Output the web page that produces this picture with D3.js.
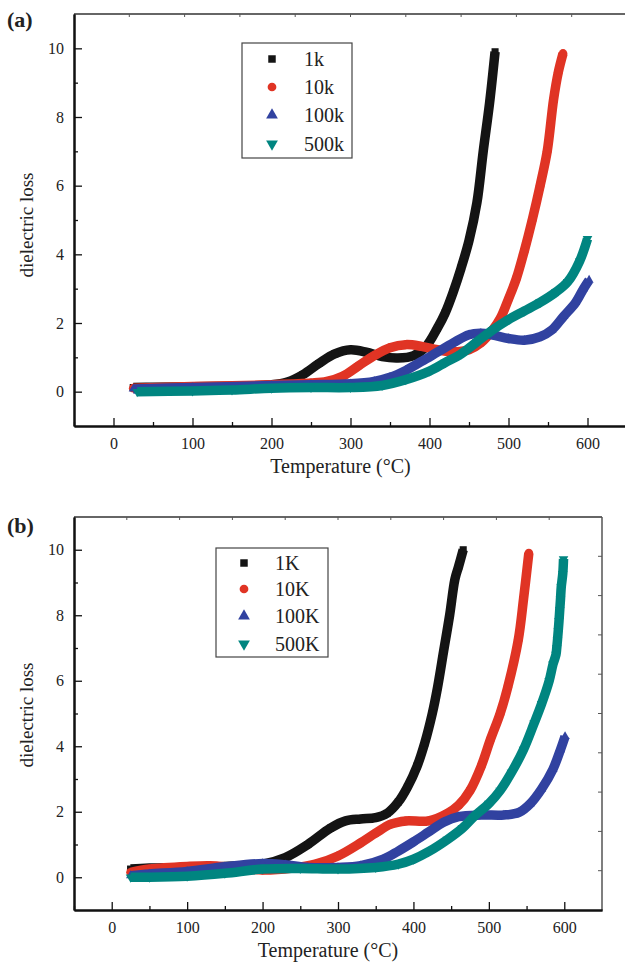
<!DOCTYPE html>
<html>
<head>
<meta charset="utf-8">
<script src="https://cdn.jsdelivr.net/npm/d3@7"></script>
<style>
  body { margin: 0; background: #fff; }
  svg text { font-family: "Liberation Serif", "Times New Roman", serif !important; fill: #222; }
</style>
</head>
<body>
<script>
// frequencies shown in each panel
var labelsA = ["1k", "10k", "100k", "500k"];
var labelsB = ["1K", "10K", "100K", "500K"];
var colors = ["#141414", "#e03424", "#3142a0", "#008580"];

// axis ticks
var xTicks = [0, 100, 200, 300, 400, 500, 600];
var yTicks = [0, 2, 4, 6, 8, 10];

// panel (a): [temperature, dielectric loss]
var a1k = [[25,0.12],[50,0.13],[100,0.14],[150,0.16],[200,0.2],[220,0.28],[240,0.5],[260,0.82],[280,1.1],[300,1.22],[320,1.15],[340,1.02],[360,0.98],[380,1.05],[395,1.3],[410,1.85],[420,2.3],[430,2.9],[440,3.6],[450,4.4],[460,5.5],[468,7.0],[476,8.4],[483,9.9]];
var a10k = [[25,0.1],[100,0.15],[150,0.17],[200,0.2],[250,0.25],[270,0.3],[290,0.45],[310,0.75],[330,1.05],[350,1.28],[370,1.37],[390,1.32],[410,1.22],[430,1.16],[450,1.22],[465,1.42],[480,1.8],[490,2.15],[500,2.7],[510,3.3],[520,4.1],[530,5.0],[540,6.0],[549,7.0],[557,8.5],[563,9.3],[569,9.85]];
var a100k = [[25,0.08],[100,0.12],[200,0.18],[250,0.2],[300,0.23],[330,0.3],[350,0.42],[370,0.62],[390,0.88],[410,1.15],[430,1.42],[450,1.66],[465,1.7],[480,1.65],[500,1.55],[520,1.5],[540,1.6],[555,1.8],[570,2.2],[585,2.6],[595,3.0],[602,3.25]];
var a500k = [[30,0.0],[100,0.02],[150,0.05],[200,0.1],[250,0.12],[300,0.12],[340,0.18],[370,0.35],[400,0.6],[420,0.85],[440,1.1],[460,1.45],[480,1.8],[500,2.1],[520,2.35],[540,2.6],[560,2.9],[575,3.2],[590,3.8],[600,4.45]];

// panel (b)
var b1k = [[25,0.25],[50,0.28],[100,0.3],[150,0.33],[200,0.4],[230,0.6],[260,1.0],[290,1.5],[310,1.72],[330,1.78],[350,1.82],[365,1.95],[380,2.3],[392,2.75],[405,3.4],[415,4.1],[425,5.0],[432,5.8],[440,6.9],[448,8.0],[455,9.1],[460,9.5],[466,10.0]];
var b10k = [[25,0.15],[50,0.25],[100,0.33],[130,0.35],[160,0.3],[200,0.22],[240,0.28],[270,0.4],[300,0.65],[330,1.05],[350,1.35],[370,1.62],[390,1.72],[420,1.72],[445,1.95],[460,2.2],[475,2.65],[490,3.4],[502,4.2],[515,5.0],[525,5.8],[539,7.25],[546,8.5],[553,9.9]];
var b100k = [[25,0.05],[50,0.1],[100,0.18],[150,0.32],[200,0.42],[230,0.38],[260,0.3],[300,0.3],[330,0.35],[360,0.55],[380,0.8],[400,1.08],[420,1.38],[440,1.68],[460,1.85],[490,1.9],[520,1.9],[540,1.98],[555,2.25],[570,2.7],[585,3.3],[595,3.9],[601,4.3]];
var b500k = [[25,0.0],[50,0.0],[100,0.03],[150,0.12],[200,0.25],[250,0.27],[300,0.25],[350,0.3],[380,0.4],[400,0.55],[420,0.78],[445,1.15],[465,1.5],[480,1.85],[500,2.25],[515,2.65],[530,3.2],[546,3.9],[560,4.7],[570,5.3],[580,6.0],[585,6.5],[589,6.8],[590,7.0],[591,7.25],[592,7.52],[593,7.83],[594,8.17],[595,8.5],[596,8.87],[598,9.27],[599,9.72]];

var width = 625, height = 967;

var svg = d3.select("body").append("svg")
  .attr("width", width)
  .attr("height", height)
  .attr("font-family", "Liberation Serif");

//big symbols for the legend, small ones sitting on the curves
var legendSym = [
  d3.symbol().type(d3.symbolSquare).size(56),
  d3.symbol().type(d3.symbolCircle).size(60),
  d3.symbol().type(d3.symbolTriangle).size(60),
  d3.symbol().type(d3.symbolTriangle).size(60)
];
var curveSym = [
  d3.symbol().type(d3.symbolSquare).size(50),
  d3.symbol().type(d3.symbolCircle).size(60),
  d3.symbol().type(d3.symbolTriangle).size(36),
  d3.symbol().type(d3.symbolTriangle).size(40)
];
var symRot = [0, 0, 0, 180];

drawPanel({
  tag: "(a)", tagY: 27,
  left: 74, right: 627, top: 14, bottom: 426,
  series: [a1k, a10k, a100k, a500k], labels: labelsA,
  legend: {x: 242, y: 43, w: 110, h: 115, mx: 272, tx: 304, rows: [59, 87, 115, 144]},
  titleY: 473, ylabelY: 225, rightTicks: false
});

drawPanel({
  tag: "(b)", tagY: 533,
  left: 74, right: 602, top: 517, bottom: 910,
  series: [b1k, b10k, b100k, b500k], labels: labelsB,
  legend: {x: 216, y: 548, w: 112, h: 109, mx: 244, tx: 275, rows: [563, 589, 616, 644]},
  titleY: 957, ylabelY: 715, rightTicks: true
});

function drawPanel(p) {
  var x = d3.scaleLinear().domain([-50, 650]).range([p.left, p.right]);
  var y = d3.scaleLinear().domain([-1, 11]).range([p.bottom, p.top]);
  var g = svg.append("g");

  // frame
  g.append("line").attr("x1", p.left).attr("x2", p.right).attr("y1", p.top).attr("y2", p.top)
    .attr("stroke", "#333").attr("stroke-width", 1.5);
  g.append("line").attr("x1", p.right).attr("x2", p.right).attr("y1", p.top).attr("y2", p.bottom)
    .attr("stroke", "#555").attr("stroke-width", 1.5);

  // top and right decoration ticks
  g.selectAll(".tt").data(d3.range(20, 650, 70)).enter().append("line")
    .attr("x1", function(d) { return x(d); }).attr("x2", function(d) { return x(d); })
    .attr("y1", p.top).attr("y2", p.top + 3)
    .attr("stroke", "#555").attr("stroke-width", 1);
  if (p.rightTicks) {
    g.selectAll(".rt").data(d3.range(0.2, 10.5, 1.2)).enter().append("line")
      .attr("x1", p.right).attr("x2", p.right - 4)
      .attr("y1", function(d) { return y(d); }).attr("y2", function(d) { return y(d); })
      .attr("stroke", "#555").attr("stroke-width", 1);
  }

  // bottom axis
  g.append("g").attr("transform", "translate(0," + p.bottom + ")")
    .call(d3.axisBottom(x).tickValues(xTicks).tickSize(-8).tickPadding(12).tickSizeOuter(0));
  g.append("g").attr("transform", "translate(0," + p.bottom + ")")
    .call(d3.axisBottom(x).tickValues(d3.range(-50, 650, 100)).tickSize(-4).tickFormat("").tickSizeOuter(0));

  // left axis
  g.append("g").attr("transform", "translate(" + p.left + ",0)")
    .call(d3.axisLeft(y).tickValues(yTicks).tickSize(-8).tickPadding(10).tickSizeOuter(0));
  g.append("g").attr("transform", "translate(" + p.left + ",0)")
    .call(d3.axisLeft(y).tickValues([1, 3, 5, 7, 9]).tickSize(-4).tickFormat("").tickSizeOuter(0));

  g.selectAll(".domain").attr("stroke", "#111").attr("stroke-width", 2);
  g.selectAll(".tick line").attr("stroke", "#111").attr("stroke-width", 1.3);
  g.selectAll(".tick text").attr("font-family", "Liberation Serif").style("font-size", "16px").attr("fill", "#222");

  // curves
  var line = d3.line()
    .x(function(d) { return x(d[0]); })
    .y(function(d) { return y(d[1]); })
    .curve(d3.curveCatmullRom.alpha(0.5));

  p.series.forEach(function(s, i) {
    g.append("path").datum(s)
      .attr("d", line)
      .attr("fill", "none")
      .attr("stroke", colors[i])
      .attr("stroke-width", 9.5);
    g.selectAll(".m" + i).data(s).enter().append("path")
      .attr("d", curveSym[i])
      .attr("transform", function(d) { return "translate(" + x(d[0]) + "," + y(d[1]) + ") rotate(" + symRot[i] + ")"; })
      .attr("fill", colors[i]);
  });

  // legend
  var L = p.legend;
  g.append("rect").attr("x", L.x).attr("y", L.y).attr("width", L.w).attr("height", L.h)
    .attr("fill", "#fff").attr("stroke", "#444").attr("stroke-width", 1.2);
  p.labels.forEach(function(lab, i) {
    g.append("path").attr("d", legendSym[i])
      .attr("transform", "translate(" + L.mx + "," + L.rows[i] + ") rotate(" + symRot[i] + ")")
      .attr("fill", colors[i]);
    g.append("text").attr("x", L.tx).attr("y", L.rows[i] + 7)
      .style("font-size", "20px").text(lab);
  });

  // labels
  g.append("text").attr("x", 7).attr("y", p.tagY)
    .style("font-size", "22px").style("font-weight", "bold").attr("fill", "#111").text(p.tag);
  g.append("text").attr("x", (p.left + p.right) / 2 - 10).attr("y", p.titleY)
    .attr("text-anchor", "middle").style("font-size", "20px").text("Temperature (\u00B0C)");
  g.append("text").attr("transform", "translate(33," + p.ylabelY + ") rotate(-90)")
    .attr("text-anchor", "middle").style("font-size", "19px").text("dielectric loss");
}
</script>
</body>
</html>
